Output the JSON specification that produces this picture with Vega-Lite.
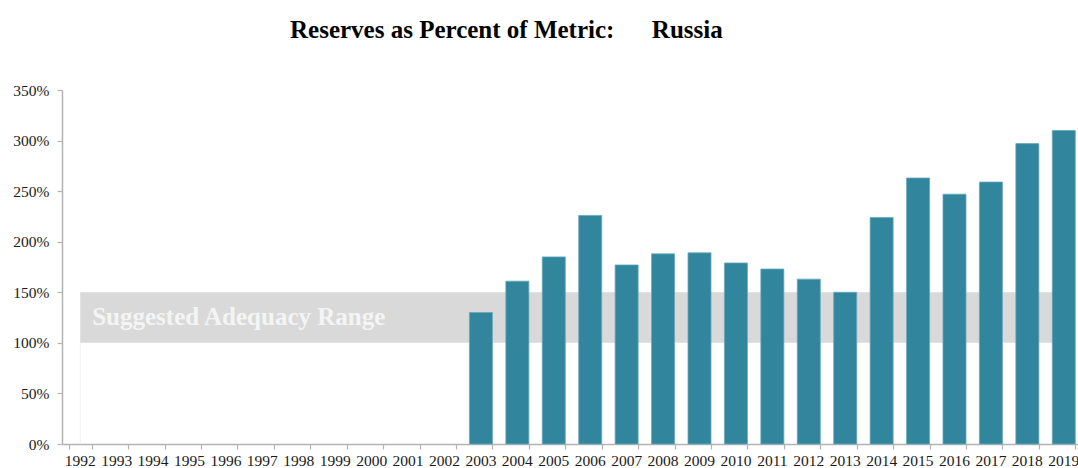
{
  "$schema": "https://vega.github.io/schema/vega-lite/v6.json",
  "width": 1020,
  "height": 354,
  "autosize": {"type": "none"},
  "padding": {"left": 62, "top": 90, "right": 0, "bottom": 24},
  "background": "white",
  "title": {
    "text": "Reserves as Percent of Metric:\u00a0\u00a0\u00a0\u00a0\u00a0\u00a0Russia",
    "font": "Liberation Serif",
    "fontSize": 25,
    "fontWeight": "bold",
    "color": "#000000",
    "anchor": "start",
    "frame": "group",
    "dx": 228,
    "offset": 40
  },
  "config": {
    "view": {"stroke": null},
    "axis": {
      "labelFont": "Liberation Serif",
      "labelFontSize": 15.5,
      "labelColor": "#1a1a1a",
      "domainColor": "#b3b3b3",
      "domainWidth": 1.5,
      "tickColor": "#b3b3b3",
      "tickWidth": 1.2,
      "tickSize": 5,
      "grid": false,
      "title": null
    }
  },
  "datasets": {
    "bars": [
      {"year": "2003", "value": 130},
      {"year": "2004", "value": 161},
      {"year": "2005", "value": 185},
      {"year": "2006", "value": 226},
      {"year": "2007", "value": 177},
      {"year": "2008", "value": 188},
      {"year": "2009", "value": 189},
      {"year": "2010", "value": 179},
      {"year": "2011", "value": 173},
      {"year": "2012", "value": 163},
      {"year": "2013", "value": 150},
      {"year": "2014", "value": 224},
      {"year": "2015", "value": 263},
      {"year": "2016", "value": 247},
      {"year": "2017", "value": 259},
      {"year": "2018", "value": 297},
      {"year": "2019", "value": 310}
    ],
    "range": [
      {"year": "1992", "base": 0, "low": 100, "high": 150},
      {"year": "2019", "base": 0, "low": 100, "high": 150}
    ],
    "label": [
      {"year": "1992", "pos": 125, "text": "Suggested Adequacy Range"}
    ]
  },
  "resolve": {"axis": {"x": "independent"}},
  "layer": [
    {
      "data": {"name": "range"},
      "mark": {"type": "area", "color": "#d9d9d9", "opacity": 1},
      "encoding": {
        "x": {
          "field": "year",
          "type": "ordinal",
          "axis": {"orient": "bottom", "labels": false, "ticks": true, "domain": true, "tickBand": "extent"}
        },
        "y": {"field": "high", "type": "quantitative"},
        "y2": {"field": "low"}
      }
    },
    {
      "data": {"name": "range"},
      "transform": [{"filter": "datum.year == '1992'"}],
      "mark": {"type": "rule", "color": "#f0f0f0", "strokeWidth": 1},
      "encoding": {
        "x": {"field": "year", "type": "ordinal", "axis": null},
        "y": {"field": "base", "type": "quantitative"},
        "y2": {"field": "low"}
      }
    },
    {
      "data": {"name": "label"},
      "mark": {"type": "text", "align": "left", "baseline": "middle", "dx": 12, "dy": -1, "font": "Liberation Serif", "fontSize": 25, "fontWeight": "bold", "color": "#f4f4f4"},
      "encoding": {
        "x": {"field": "year", "type": "ordinal", "axis": null},
        "y": {"field": "pos", "type": "quantitative"},
        "text": {"field": "text"}
      }
    },
    {
      "data": {"name": "bars"},
      "mark": {"type": "bar", "color": "#31859c", "stroke": "#6aa9ba", "strokeWidth": 0.8},
      "encoding": {
        "x": {
          "field": "year",
          "type": "ordinal",
          "scale": {
            "domain": ["1992", "1993", "1994", "1995", "1996", "1997", "1998", "1999", "2000", "2001", "2002", "2003", "2004", "2005", "2006", "2007", "2008", "2009", "2010", "2011", "2012", "2013", "2014", "2015", "2016", "2017", "2018", "2019"],
            "paddingInner": 0.368,
            "paddingOuter": 0.184
          },
          "axis": {"orient": "bottom", "labelAngle": 0, "ticks": false, "domain": false, "labelPadding": 9}
        },
        "y": {
          "field": "value",
          "type": "quantitative",
          "scale": {"domain": [0, 350], "nice": false},
          "axis": {"values": [0, 50, 100, 150, 200, 250, 300, 350], "labelExpr": "datum.value + '%'", "labelPadding": 8}
        }
      }
    }
  ]
}
